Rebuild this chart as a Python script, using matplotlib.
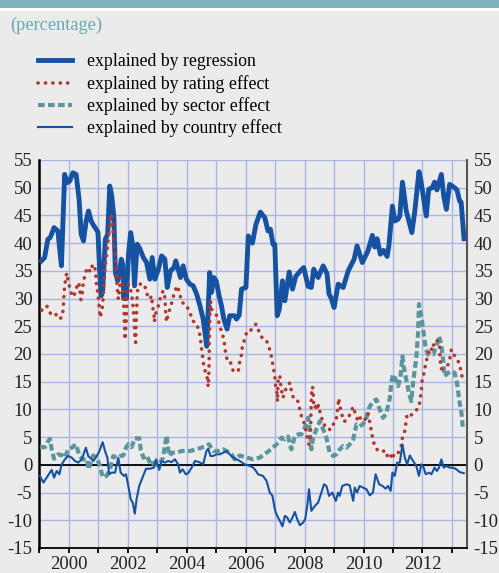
import matplotlib
matplotlib.use("Agg")
import matplotlib.pyplot as plt
from matplotlib.patches import Rectangle

plt.rcParams['font.family'] = ['Liberation Serif', 'DejaVu Serif']

# explained by regression
reg_t = [1999.07, 1999.18, 1999.29, 1999.37, 1999.50, 1999.63, 1999.75, 1999.86, 1999.95, 2000.03,
         2000.14, 2000.25, 2000.35, 2000.42, 2000.50, 2000.59, 2000.67, 2000.76, 2000.82, 2000.93,
         2000.99, 2001.05, 2001.10, 2001.15, 2001.24, 2001.32, 2001.39, 2001.46, 2001.53, 2001.58,
         2001.66, 2001.71, 2001.78, 2001.83, 2001.87, 2001.91, 2001.95, 2002.03, 2002.10, 2002.17,
         2002.23, 2002.32, 2002.41, 2002.53, 2002.64, 2002.75, 2002.83, 2002.92, 2003.04, 2003.15,
         2003.26, 2003.34, 2003.45, 2003.57, 2003.63, 2003.71, 2003.79, 2003.88, 2003.99, 2004.11,
         2004.22, 2004.34, 2004.45, 2004.56, 2004.68, 2004.78, 2004.84, 2004.92, 2005.00, 2005.10,
         2005.18, 2005.26, 2005.37, 2005.46, 2005.63, 2005.69, 2005.78, 2005.86, 2006.01, 2006.09,
         2006.23, 2006.35, 2006.50, 2006.65, 2006.76, 2006.84, 2006.93, 2006.99, 2007.07, 2007.14,
         2007.25, 2007.33, 2007.48, 2007.59, 2007.70, 2007.84, 2007.97, 2008.12, 2008.23, 2008.31,
         2008.46, 2008.63, 2008.76, 2008.83, 2008.91, 2009.00, 2009.14, 2009.31, 2009.48, 2009.68,
         2009.78, 2009.96, 2010.15, 2010.30, 2010.38, 2010.46, 2010.57, 2010.68, 2010.80, 2010.86,
         2010.98, 2011.06, 2011.17, 2011.23, 2011.32, 2011.45, 2011.64, 2011.74, 2011.88, 2011.94,
         2012.13, 2012.21, 2012.33, 2012.41, 2012.49, 2012.64, 2012.72, 2012.81, 2012.92, 2013.09,
         2013.17, 2013.26, 2013.31, 2013.41]
reg_v = [36.8, 37.4, 40.7, 41.0, 42.8, 42.2, 35.9, 52.4, 50.9, 51.2,
         52.7, 52.4, 47.9, 41.6, 40.4, 44.0, 45.8, 44.0, 43.4, 42.5,
         42.0, 34.7, 30.5, 31.5, 40.7, 41.6, 50.3, 48.5, 44.6, 34.7,
         33.2, 34.4, 37.1, 36.2, 30.0, 33.5, 30.0, 38.3, 41.9, 39.6,
         32.3, 39.8, 39.0, 37.4, 36.5, 33.5, 37.4, 33.5, 35.3, 37.7,
         37.1, 32.0, 35.0, 35.6, 36.8, 35.3, 33.8, 35.9, 33.5, 32.6,
         32.3, 30.8, 28.7, 26.3, 21.4, 34.7, 31.1, 33.8, 33.2, 30.5,
         28.7, 26.3, 24.5, 26.9, 26.9, 26.3, 27.0, 31.7, 32.0, 41.3,
         40.0, 43.4, 45.6, 44.6, 42.2, 42.5, 39.8, 39.8, 26.9, 28.0,
         33.2, 29.6, 34.8, 31.7, 34.0, 34.9, 35.6, 32.2, 32.0, 35.3,
         33.8, 35.9, 34.5, 30.8, 30.0, 28.4, 32.6, 32.0, 35.0, 37.1,
         39.5, 36.5, 38.6, 41.4, 39.3, 40.8, 38.0, 38.7, 37.6, 39.5,
         46.7, 44.0, 44.3, 44.9, 51.0, 45.8, 41.9, 45.8, 52.9, 51.5,
         44.9, 49.7, 50.0, 51.0, 49.6, 52.4, 48.5, 46.1, 50.6, 50.0,
         49.6, 47.6, 47.4, 40.8]

# explained by rating effect
rat_t = [1999.08, 1999.25, 1999.39, 1999.53, 1999.66, 1999.77, 1999.81, 1999.84, 1999.89, 1999.93,
         1999.98, 2000.04, 2000.13, 2000.22, 2000.31, 2000.36, 2000.41, 2000.46, 2000.49, 2000.55,
         2000.63, 2000.74, 2000.81, 2000.89, 2000.92, 2000.94, 2000.98, 2001.02, 2001.06, 2001.11,
         2001.15, 2001.17, 2001.20, 2001.24, 2001.28, 2001.34, 2001.40, 2001.42, 2001.48, 2001.51,
         2001.57, 2001.60, 2001.62, 2001.64, 2001.68, 2001.71, 2001.77, 2001.83, 2001.85, 2001.88,
         2001.89, 2001.91, 2001.94, 2001.96, 2001.98, 2002.02, 2002.07, 2002.13, 2002.17, 2002.19,
         2002.22, 2002.24, 2002.27, 2002.28, 2002.30, 2002.32, 2002.36, 2002.47, 2002.61, 2002.67,
         2002.75, 2002.81, 2002.84, 2002.89, 2002.90, 2002.96, 2003.04, 2003.11, 2003.20, 2003.26,
         2003.29, 2003.32, 2003.37, 2003.45, 2003.60, 2003.68, 2003.77, 2003.83, 2003.97, 2004.11,
         2004.20, 2004.33, 2004.42, 2004.47, 2004.50, 2004.54, 2004.58, 2004.64, 2004.70, 2004.73,
         2004.75, 2004.76, 2004.77, 2004.79, 2004.81, 2004.84, 2005.01, 2005.10, 2005.18, 2005.26,
         2005.30, 2005.33, 2005.41, 2005.49, 2005.58, 2005.75, 2005.80, 2005.86, 2005.89, 2005.97,
         2006.05, 2006.14, 2006.23, 2006.35, 2006.46, 2006.58, 2006.71, 2006.81, 2006.88, 2006.97,
         2007.00, 2007.02, 2007.07, 2007.08, 2007.10, 2007.16, 2007.18, 2007.22, 2007.27, 2007.33,
         2007.39, 2007.50, 2007.55, 2007.63, 2007.72, 2007.78, 2007.84, 2007.90, 2008.01, 2008.06,
         2008.12, 2008.15, 2008.20, 2008.21, 2008.22, 2008.23, 2008.27, 2008.29, 2008.31, 2008.35,
         2008.40, 2008.44, 2008.47, 2008.52, 2008.57, 2008.63, 2008.74, 2008.80, 2008.91, 2008.97,
         2009.06, 2009.10, 2009.16, 2009.19, 2009.25, 2009.34, 2009.42, 2009.53, 2009.65, 2009.70,
         2009.76, 2009.81, 2009.87, 2009.96, 2010.04, 2010.15, 2010.23, 2010.30, 2010.38, 2010.47,
         2010.56, 2010.66, 2010.77, 2010.89, 2010.97, 2011.06, 2011.17, 2011.28, 2011.32, 2011.40,
         2011.43, 2011.48, 2011.57, 2011.74, 2011.88, 2011.93, 2011.96, 2011.99, 2012.07, 2012.11,
         2012.19, 2012.27, 2012.33, 2012.41, 2012.53, 2012.58, 2012.60, 2012.64, 2012.72, 2012.79,
         2012.87, 2012.92, 2012.98, 2013.06, 2013.15, 2013.20, 2013.26, 2013.32, 2013.37]
rat_v = [27.9, 28.7, 27.2, 27.4, 26.3, 26.6, 28.1, 31.1, 33.5, 34.6,
         33.2, 31.7, 30.3, 31.0, 32.9, 32.4, 29.8, 31.1, 32.8, 34.3,
         35.6, 34.8, 36.2, 35.4, 34.1, 32.5, 31.1, 29.3, 26.6, 27.5,
         28.9, 30.5, 33.5, 36.2, 37.7, 40.7, 43.7, 45.2, 44.0, 41.3,
         38.3, 35.6, 34.1, 32.3, 29.9, 31.1, 33.8, 32.3, 29.9, 27.5,
         25.1, 22.6, 25.1, 27.5, 31.1, 32.6, 32.3, 30.8, 29.3, 27.8,
         26.3, 23.2, 22.1, 24.8, 27.5, 30.8, 32.3, 32.8, 31.9, 30.5,
         29.9, 30.5, 28.7, 27.2, 25.8, 27.5, 28.7, 30.2, 31.4, 30.2,
         27.2, 25.8, 27.2, 28.4, 31.4, 32.3, 30.8, 29.3, 29.0, 27.5,
         26.0, 25.5, 24.2, 22.7, 21.1, 19.6, 17.8, 16.7, 15.6, 14.1,
         15.9, 18.6, 22.6, 27.5, 29.6, 28.1, 27.0, 25.6, 24.0, 22.7,
         21.0, 19.8, 18.4, 18.4, 16.9, 16.9, 18.6, 19.9, 21.4, 22.7,
         24.2, 24.2, 24.5, 25.4, 24.0, 22.7, 22.4, 20.9, 19.4, 16.6,
         15.5, 14.0, 12.8, 11.4, 15.2, 16.1, 14.8, 13.4, 12.1, 13.4,
         13.8, 14.8, 13.4, 11.9, 11.8, 11.4, 9.9, 8.7, 7.2, 5.8,
         4.0, 3.7, 5.2, 7.8, 11.1, 12.6, 14.1, 13.2, 11.1, 10.2,
         11.1, 9.9, 10.8, 9.6, 8.8, 7.3, 7.0, 6.4, 6.4, 7.3,
         7.8, 9.0, 12.0, 10.8, 9.3, 7.8, 8.1, 9.0, 10.5, 9.6,
         8.7, 7.8, 8.4, 8.7, 8.1, 9.3, 7.2, 5.1, 3.3, 2.7,
         2.7, 2.7, 1.5, 2.2, 1.0, 2.2, 2.1, 3.4, 4.9, 6.1,
         7.3, 9.1, 8.8, 9.5, 10.5, 12.1, 13.3, 15.4, 16.9, 18.4,
         19.8, 21.2, 20.6, 22.4, 22.4, 21.5, 18.8, 17.3, 17.6, 17.8,
         18.1, 19.0, 20.8, 19.9, 19.3, 18.9, 17.8, 16.8, 14.8]

# explained by sector effect
sec_t = [1999.02, 1999.19, 1999.27, 1999.36, 1999.42, 1999.50, 1999.65, 1999.79, 1999.87, 1999.98,
         2000.10, 2000.24, 2000.36, 2000.47, 2000.63, 2000.66, 2000.74, 2000.83, 2000.94, 2001.06,
         2001.11, 2001.17, 2001.28, 2001.40, 2001.51, 2001.62, 2001.74, 2001.85, 2001.94, 2002.02,
         2002.13, 2002.24, 2002.39, 2002.44, 2002.53, 2002.64, 2002.73, 2002.81, 2002.89, 2002.98,
         2003.09, 2003.20, 2003.26, 2003.32, 2003.37, 2003.43, 2003.49, 2003.66, 2003.83, 2004.11,
         2004.33, 2004.50, 2004.65, 2004.76, 2004.90, 2005.07, 2005.24, 2005.35, 2005.52, 2005.63,
         2005.80, 2006.03, 2006.26, 2006.48, 2006.71, 2006.88, 2007.05, 2007.22, 2007.33, 2007.44,
         2007.55, 2007.67, 2007.78, 2007.89, 2008.01, 2008.12, 2008.18, 2008.23, 2008.29, 2008.40,
         2008.52, 2008.63, 2008.74, 2008.85, 2008.97, 2009.08, 2009.19, 2009.31, 2009.42, 2009.53,
         2009.65, 2009.76, 2009.87, 2009.98, 2010.10, 2010.19, 2010.32, 2010.44, 2010.55, 2010.66,
         2010.77, 2010.89, 2010.94, 2011.00, 2011.08, 2011.17, 2011.25, 2011.32, 2011.36, 2011.45,
         2011.54, 2011.62, 2011.68, 2011.79, 2011.85, 2011.88, 2011.96, 2012.02, 2012.11, 2012.19,
         2012.36, 2012.47, 2012.56, 2012.64, 2012.70, 2012.75, 2012.87, 2012.98, 2013.09, 2013.17,
         2013.26, 2013.32, 2013.37]
sec_v = [3.2, 3.2, 4.0, 4.7, 2.8, 1.1, 1.9, 1.7, 1.3, 2.8,
         3.1, 3.7, 1.7, 1.0, 1.0, -0.8, 0.4, 1.7, 1.3, -0.2,
         -1.4, -2.3, -2.0, -0.8, 1.6, 1.3, 1.6, 1.7, 3.1, 3.7,
         3.2, 4.8, 4.8, 2.8, 1.3, 1.7, 0.7, -0.1, 0.4, 0.0,
         0.4, 1.3, 3.4, 5.3, 2.8, 1.6, 2.2, 2.2, 2.5, 2.5,
         2.8, 3.1, 3.4, 3.7, 2.5, 2.5, 2.8, 2.5, 1.9, 1.0,
         1.7, 1.3, 1.0, 1.3, 2.2, 2.9, 3.7, 4.9, 4.6, 5.1,
         2.8, 5.2, 5.5, 5.5, 6.7, 8.5, 5.8, 2.8, 4.9, 6.4,
         7.9, 6.4, 4.9, 2.2, 1.6, 1.9, 2.8, 3.4, 3.1, 3.7,
         4.6, 7.3, 7.0, 7.3, 8.5, 10.3, 11.5, 11.8, 10.0, 8.5,
         9.2, 12.0, 14.8, 16.3, 15.5, 14.2, 15.7, 19.6, 17.8, 15.4,
         13.0, 11.5, 14.8, 19.3, 23.8, 29.0, 26.9, 24.5, 20.9, 19.9,
         19.9, 21.4, 23.2, 21.7, 19.0, 16.0, 16.6, 16.9, 16.6, 14.8,
         11.2, 9.4, 6.7]

# explained by country effect
cty_t = [1999.02, 1999.14, 1999.25, 1999.36, 1999.42, 1999.50, 1999.59, 1999.68, 1999.76, 1999.87,
         1999.98, 2000.10, 2000.21, 2000.32, 2000.44, 2000.58, 2000.66, 2000.78, 2000.83, 2000.92,
         2001.04, 2001.15, 2001.23, 2001.31, 2001.37, 2001.45, 2001.57, 2001.68, 2001.76, 2001.87,
         2001.94, 2002.02, 2002.10, 2002.17, 2002.24, 2002.30, 2002.39, 2002.50, 2002.62, 2002.75,
         2002.89, 2002.96, 2003.07, 2003.15, 2003.26, 2003.37, 2003.49, 2003.60, 2003.71, 2003.77,
         2003.86, 2003.97, 2004.05, 2004.17, 2004.28, 2004.42, 2004.56, 2004.67, 2004.73, 2004.81,
         2004.90, 2005.01, 2005.13, 2005.24, 2005.35, 2005.46, 2005.58, 2005.69, 2005.80, 2005.97,
         2006.14, 2006.26, 2006.35, 2006.42, 2006.59, 2006.71, 2006.82, 2006.91, 2006.97, 2007.02,
         2007.10, 2007.16, 2007.25, 2007.33, 2007.41, 2007.50, 2007.59, 2007.67, 2007.75, 2007.84,
         2007.95, 2008.02, 2008.09, 2008.15, 2008.23, 2008.35, 2008.46, 2008.57, 2008.66, 2008.74,
         2008.83, 2008.94, 2009.06, 2009.14, 2009.19, 2009.28, 2009.42, 2009.53, 2009.65, 2009.70,
         2009.78, 2009.87, 2009.98, 2010.10, 2010.21, 2010.32, 2010.41, 2010.53, 2010.64, 2010.75,
         2010.83, 2010.92, 2010.98, 2011.06, 2011.14, 2011.23, 2011.32, 2011.40, 2011.48, 2011.57,
         2011.68, 2011.79, 2011.88, 2011.96, 2012.04, 2012.11, 2012.22, 2012.30, 2012.41, 2012.49,
         2012.56, 2012.64, 2012.72, 2012.81, 2012.92, 2013.03, 2013.15, 2013.26, 2013.40]
cty_v = [-2.0, -3.2, -2.3, -1.4, -0.9, -2.3, -1.1, -1.7, 0.1, 1.0,
         1.6, 1.3, 0.7, 0.4, 1.0, 3.1, 1.6, 1.0, 0.7, 1.3,
         2.5, 4.1, 2.5, 1.3, -1.7, -1.4, -1.4, 1.3, -1.4, -2.0,
         -1.7, -3.8, -6.2, -6.8, -8.8, -6.2, -3.8, -2.3, -0.7, -0.7,
         -0.5, 1.0, -0.9, 0.7, 0.4, 0.7, 0.5, 1.0, 0.1, -1.4,
         -0.8, -1.7, -1.5, -0.5, 0.7, 0.5, 0.1, 2.5, 2.9, 1.6,
         1.6, 1.9, 1.9, 2.2, 2.5, 1.9, 1.3, 1.0, 0.7, 0.1,
         -0.2, -0.5, -1.1, -1.7, -2.0, -2.9, -5.0, -5.6, -7.4, -8.6,
         -9.5, -10.1, -11.1, -9.2, -9.5, -10.4, -9.5, -8.5, -9.8, -10.9,
         -10.4, -9.8, -7.4, -4.4, -8.3, -7.4, -6.8, -5.0, -3.5, -3.8,
         -5.6, -5.0, -6.5, -5.0, -5.6, -3.8, -3.5, -3.7, -6.5, -4.1,
         -5.0, -3.8, -4.1, -4.4, -5.5, -5.0, -1.7, -3.5, -3.8, -4.3,
         -3.8, -4.7, -1.4, -2.0, 0.4, 0.4, 3.7, 1.3, 0.1, 1.7,
         0.7, -0.2, -2.0, 0.1, -0.5, -1.7, -1.4, -1.7, -0.5, -1.1,
         -0.5, 1.0, -0.5, -0.2, -0.5, -0.5, -0.8, -1.3, -1.5]

labels = ['explained by regression', 'explained by rating effect',
          'explained by sector effect', 'explained by country effect']
years = list(range(1999, 2014))
ylevels = list(range(-15, 60, 5))

bg = '#ebebeb'
blue = '#1652a2'
red = '#b3372d'
teal = '#5b969e'
grid = '#aab4e6'

fig = plt.figure(figsize=(4.99, 5.73), dpi=100, facecolor=bg)

# header strip
fig.patches.append(Rectangle((0, 1 - 8 / 573), 1, 8 / 573, transform=fig.transFigure,
                             facecolor='#80b3bb', edgecolor='none'))
fig.patches.append(Rectangle((0, 1 - 10.5 / 573), 1, 2.5 / 573, transform=fig.transFigure,
                             facecolor='white', edgecolor='none'))
fig.text(10 / 499, 1 - 25 / 573, '(percentage)', color='#67a8b0', fontsize=13.2, va='center', ha='left')

ax = fig.add_axes([39.3 / 499, 1 - 548 / 573, (466.7 - 39.3) / 499, (548 - 160) / 573])
ax.set_facecolor(bg)

for y in ylevels:
    ax.axhline(y, color=grid, lw=1.0, zorder=1)
for yr in years:
    ax.axvline(yr, color=grid, lw=1.0, zorder=1)
ax.axhline(0, color='black', lw=1.3, zorder=2)

l1, = ax.plot(reg_t, reg_v, color=blue, lw=3.5, solid_joinstyle='round', zorder=3)
l3, = ax.plot(sec_t, sec_v, color=teal, lw=3.0, ls=(0, (1.6, 0.8)), zorder=4)
l2, = ax.plot(rat_t, rat_v, color=red, lw=2.6, ls=(0, (0.05, 2.0)), dash_capstyle='round', zorder=5)
l4, = ax.plot(cty_t, cty_v, color=blue, lw=1.5, zorder=6)

ax.set_xlim(1999, 2013.5)
ax.set_ylim(-15, 55)
ax.set_yticks(ylevels)
ax.set_yticklabels([str(v) for v in ylevels])
ax.set_xticks(years)
ax.set_xticklabels([str(y) if y % 2 == 0 else '' for y in years])

ax.tick_params(axis='y', left=False, right=False, length=0, labelleft=True, labelright=True,
               labelsize=13.5, pad=5, labelcolor='#222222')
ax.tick_params(axis='x', direction='out', length=3.8, width=1.3, labelsize=13.5, pad=2,
               labelcolor='#222222')

ax.spines['top'].set_visible(False)
ax.spines['left'].set_linewidth(1.8)
ax.spines['left'].set_color('black')
ax.spines['right'].set_linewidth(1.5)
ax.spines['right'].set_color('#555555')
ax.spines['bottom'].set_linewidth(1.3)

fig.legend([l1, l2, l3, l4], labels, loc='upper left',
           bbox_to_anchor=(38 / 499, 1 - 53.5 / 573), frameon=False, fontsize=12.8,
           handlelength=1.9, handletextpad=0.84, labelspacing=0.25,
           borderpad=0, borderaxespad=0)

fig.savefig('out.png', dpi=100, facecolor=bg)
